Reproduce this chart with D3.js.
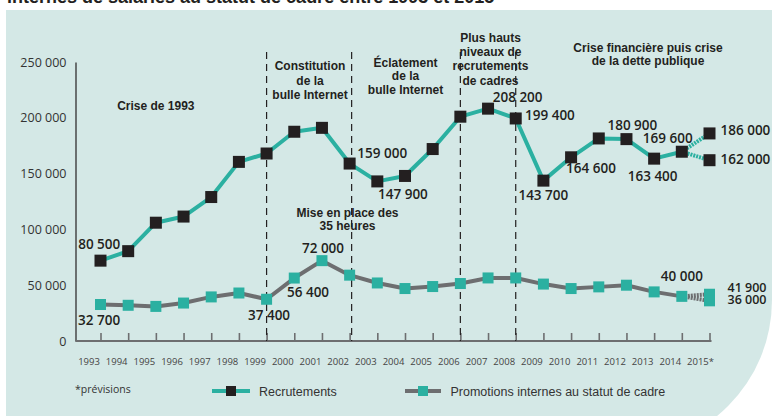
<!DOCTYPE html>
<html>
<head>
<meta charset="utf-8">
<script src="https://cdn.jsdelivr.net/npm/d3@7"></script>
<style>
body { margin:0; background:#fff; }
svg { display:block; }
</style>
</head>
<body>
<svg width="772" height="416"></svg>
<script>
// data
var years = ["1993","1994","1995","1996","1997","1998","1999","2000","2001","2002","2003",
             "2004","2005","2006","2007","2008","2009","2010","2011","2012","2013","2014","2015*"];
var recrutements = [72000, 80500, 106000, 111500, 129000, 160500, 168000, 187500, 191000, 159000, 143000,
                    147900, 172000, 201000, 208200, 199400, 143700, 164600, 181500, 180900, 163400, 169600];
var recrutementsPrev = [186000, 162000];
var promotions = [32700, 32000, 31000, 34000, 39500, 43000, 37400, 56400, 72000, 59000, 52000,
                  47000, 48800, 51500, 56500, 56500, 51000, 47000, 48500, 50000, 44000, 40000];
var promotionsPrev = [41900, 36000];
var yTicks = [0, 50000, 100000, 150000, 200000, 250000];
var ruptures = ["1999", "2002", "2006", "2008"];

var titre = "internes de salariés au statut de cadre entre 1993 et 2015";
var periodes = [
  ["Crise de 1993"],
  ["Constitution", "de la", "bulle Internet"],
  ["Éclatement", "de la", "bulle Internet"],
  ["Plus hauts", "niveaux de", "recrutements", "de cadres"],
  ["Crise financière puis crise", "de la dette publique"],
  ["Mise en place des", "35 heures"]
];

var fmt = d3.formatLocale({decimal:",", thousands:" ", grouping:[3], currency:["","€"]}).format(",d");

var svg = d3.select("svg");

var teal = "#2bb0a1",
    grey = "#6d6e70",
    ink = "#231f20";

// panel
svg.append("path")
   .attr("d", "M6,10H772V300A150,150 0 0 1 622,450H6Z")
   .attr("fill", "#d4e8e6");

// title, cut by the top edge as in the picture
svg.append("text")
   .attr("x", 7).attr("y", 2.5)
   .attr("font-family", "Liberation Sans, sans-serif")
   .attr("font-weight", "bold")
   .attr("font-size", 18)
   .attr("fill", ink)
   .text(titre);

var x = d3.scalePoint().domain(years).range([100.5, 709.5]);
var y = d3.scaleLinear().domain([0, 250000]).range([341, 62]);

// axes
var gy = svg.append("g")
            .attr("transform", "translate(75.5,0)")
            .call(d3.axisLeft(y).tickValues(yTicks).tickSize(0).tickPadding(9).tickFormat(fmt));
gy.select(".domain").attr("stroke", ink).attr("stroke-width", 1.2);
gy.selectAll("text")
  .attr("font-family", "Open Sans, sans-serif")
  .attr("font-size", 12.5)
  .attr("fill", "#333");

var gx = svg.append("g")
            .attr("transform", "translate(0,341)")
            .call(d3.axisBottom(x).tickSizeInner(-8).tickSizeOuter(0).tickPadding(17));
gx.select(".domain")
  .attr("d", "M75.5,0H711.5")
  .attr("stroke", grey)
  .attr("stroke-width", 2.2);
gx.selectAll(".tick line").attr("stroke", grey).attr("stroke-width", 1.6);
gx.selectAll("text")
  .attr("dx", function(d) { return d == "2015*" ? -9.5 : -12; })
  .attr("font-family", "Open Sans, sans-serif")
  .attr("font-size", 9.5)
  .attr("fill", "#444");

// period annotations
var annPos = [
  {cx: x("1995"), y: 110},
  {cx: 310, y: 70},
  {cx: 405.5, y: 66.5},
  {cx: 490.5, y: 41.5},
  {cx: 648, y: 51.5},
  {cx: 347.5, y: 216.5}
];
var annLead = [14.3, 14.5, 13.7, 14.4, 13.2, 13.5];

periodes.forEach(function(lines, i) {
  var t = svg.append("text")
             .attr("text-anchor", "middle")
             .attr("font-family", "Liberation Sans, sans-serif")
             .attr("font-weight", "bold")
             .attr("font-size", 12)
             .attr("fill", ink);
  t.selectAll("tspan")
   .data(lines)
   .enter()
   .append("tspan")
   .attr("x", annPos[i].cx)
   .attr("y", function(d, j) { return annPos[i].y + j * annLead[i]; })
   .text(function(d) { return d; });
});

// dashed separators
svg.selectAll(".rupture")
   .data(ruptures)
   .enter()
   .append("line")
   .attr("class", "rupture")
   .attr("x1", function(d) { return x(d) + (d == "2002" ? 2 : 0); })
   .attr("x2", function(d) { return x(d) + (d == "2002" ? 2 : 0); })
   .attr("y1", 52)
   .attr("y2", 341)
   .attr("stroke", ink)
   .attr("stroke-width", 1.2)
   .attr("stroke-dasharray", "7,5");

// series
var recPts = recrutements.map(function(v, i) { return {year: years[i], value: v}; });
var proPts = promotions.map(function(v, i) { return {year: years[i], value: v}; });
var last = years.length - 1;

var line = d3.line()
             .x(function(d) { return x(d.year); })
             .y(function(d) { return y(d.value); });

var drawSerie = function(pts, prev, lineColor, markColor, markSize)
{
  prev.forEach(function(v) {
    svg.append("path")
       .datum([pts[pts.length - 1], {year: years[last], value: v}])
       .attr("d", line)
       .attr("fill", "none")
       .attr("stroke", lineColor)
       .attr("stroke-width", 4)
       .attr("stroke-dasharray", "2,1");
  });

  svg.append("path")
     .datum(pts)
     .attr("d", line)
     .attr("fill", "none")
     .attr("stroke", lineColor)
     .attr("stroke-width", 4)
     .attr("stroke-linejoin", "round");

  var all = pts.concat(prev.map(function(v) { return {year: years[last], value: v}; }));
  svg.append("g")
     .selectAll("rect")
     .data(all)
     .enter()
     .append("rect")
     .attr("x", function(d) { return x(d.year) - markSize / 2; })
     .attr("y", function(d) { return y(d.value) - markSize / 2; })
     .attr("width", markSize)
     .attr("height", markSize)
     .attr("fill", markColor);
};

drawSerie(proPts, promotionsPrev, grey, teal, 11);
drawSerie(recPts, recrutementsPrev, teal, ink, 12);

// value labels : year, series value, offsets from the point
var recLabels = [
  {year:"1994", v:80500, dx:-50, dy:-2},
  {year:"2002", v:159000, dx:7.7, dy:-5.3},
  {year:"2004", v:147900, dx:-27, dy:23},
  {year:"2007", v:208200, dx:4.7, dy:-7},
  {year:"2008", v:199400, dx:9.3, dy:1.5},
  {year:"2009", v:143700, dx:-25, dy:19.4},
  {year:"2010", v:164600, dx:-5, dy:16},
  {year:"2012", v:180900, dx:-19, dy:-9},
  {year:"2013", v:163400, dx:-26.4, dy:22},
  {year:"2014", v:169600, dx:-39, dy:-8.4},
  {year:"2015*", v:186000, dx:11, dy:1.6},
  {year:"2015*", v:162000, dx:11, dy:4}
];
var proLabels = [
  {year:"1993", v:32700, dx:-22.5, dy:20.5},
  {year:"1999", v:37400, dx:-18.6, dy:20.7},
  {year:"2000", v:56400, dx:-7.3, dy:18.6},
  {year:"2001", v:72000, dx:-20, dy:-7.3},
  {year:"2014", v:40000, dx:-21, dy:-15.4},
  {year:"2015*", v:41900, dx:18, dy:-2.5, small:true},
  {year:"2015*", v:36000, dx:18, dy:3.5, small:true}
];

svg.append("g")
   .selectAll("text")
   .data(recLabels.concat(proLabels))
   .enter()
   .append("text")
   .attr("x", function(d) { return x(d.year) + d.dx; })
   .attr("y", function(d) { return y(d.v) + d.dy; })
   .attr("font-family", "Open Sans, sans-serif")
   .attr("font-weight", 600)
   .attr("font-size", function(d) { return d.small ? 12.5 : 13.5; })
   .attr("fill", ink)
   .text(function(d) { return fmt(d.v); });

// legend
var legend = [
  {name:"Recrutements", lineColor:teal, markColor:ink, x1:212, x2:250, tx:259},
  {name:"Promotions internes au statut de cadre", lineColor:grey, markColor:teal, x1:405, x2:441, tx:450.5}
];
var lg = svg.append("g").selectAll("g").data(legend).enter().append("g");
lg.append("line")
  .attr("x1", function(d) { return d.x1; })
  .attr("x2", function(d) { return d.x2; })
  .attr("y1", 391).attr("y2", 391)
  .attr("stroke", function(d) { return d.lineColor; })
  .attr("stroke-width", 4);
lg.append("rect")
  .attr("x", function(d) { return (d.x1 + d.x2) / 2 - 5; })
  .attr("y", 386)
  .attr("width", 10).attr("height", 10)
  .attr("fill", function(d) { return d.markColor; });
lg.append("text")
  .attr("x", function(d) { return d.tx; })
  .attr("y", 396)
  .attr("font-family", "Liberation Sans, sans-serif")
  .attr("font-size", 12.5)
  .attr("fill", "#333")
  .text(function(d) { return d.name; });

svg.append("text")
   .attr("x", 75).attr("y", 393)
   .attr("font-family", "Open Sans, sans-serif")
   .attr("font-size", 10.5)
   .attr("fill", "#333")
   .text("*prévisions");
</script>
</body>
</html>
